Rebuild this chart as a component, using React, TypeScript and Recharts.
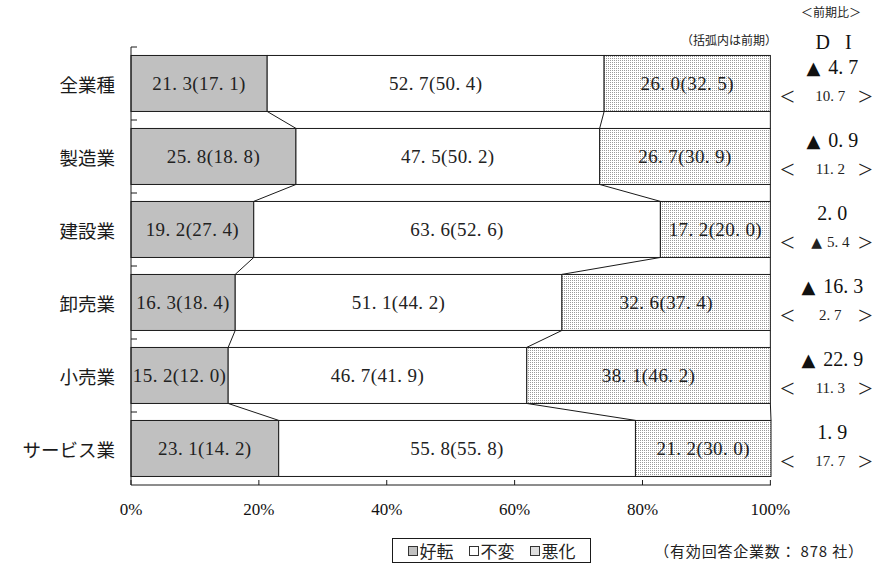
import React from 'react';
import { BarChart, Bar, XAxis, YAxis } from 'recharts';

const categories = ['全業種', '製造業', '建設業', '卸売業', '小売業', 'サービス業'];
const improved = [21.3, 25.8, 19.2, 16.3, 15.2, 23.1];
const improvedPrev = [17.1, 18.8, 27.4, 18.4, 12.0, 14.2];
const unchanged = [52.7, 47.5, 63.6, 51.1, 46.7, 55.8];
const unchangedPrev = [50.4, 50.2, 52.6, 44.2, 41.9, 55.8];
const worsened = [26.0, 26.7, 17.2, 32.6, 38.1, 21.2];
const worsenedPrev = [32.5, 30.9, 20.0, 37.4, 46.2, 30.0];
const diValues = [-4.7, -0.9, 2.0, -16.3, -22.9, 1.9];
const diChanges = [10.7, 11.2, -5.4, 2.7, 11.3, 17.7];
const xTicks = [0, 20, 40, 60, 80, 100];
const seriesNames = ['好転', '不変', '悪化'];

const rows = categories.map((name, i) => ({
  name,
  good: improved[i],
  same: unchanged[i],
  bad: worsened[i],
}));

const GAP = 0.116;
const SERIF = '"Liberation Serif", "DejaVu Serif", serif';
const SANS = '"Noto Sans CJK JP", "Noto Sans", sans-serif';
const TRI = '"DejaVu Sans", sans-serif';

const series = [
  { key: 'good', values: improved, prev: improvedPrev, fill: '#c0c0c0' },
  { key: 'same', values: unchanged, prev: unchangedPrev, fill: '#ffffff' },
  { key: 'bad', values: worsened, prev: worsenedPrev, fill: 'url(#dots)' },
];

const fmt = (v: number) => Math.abs(v).toFixed(1).replace('.', '. ');

function signed(v: number, triSize: number, gap: number) {
  return v < 0
    ? [
        <tspan key="a" fontFamily={TRI} fontSize={triSize}>▲</tspan>,
        <tspan key="b" dx={gap}>{fmt(v)}</tspan>,
      ]
    : fmt(v);
}

function cumulative(si: number, i: number) {
  let s = 0;
  for (let k = 0; k <= si; k++) s += series[k].values[i];
  return s;
}

function makeShape(si: number) {
  return (props: any) => {
    const { x, y, width, height } = props;
    let index = props.index;
    if (index == null) index = categories.indexOf(props.payload?.name);
    const s = series[si];
    const v = s.values[index];
    const ppu = width / v;
    const start = si > 0 ? cumulative(si - 1, index) : 0;
    const x0 = x - start * ppu;
    const step = height / (1 - 2 * GAP);
    const gapHalf = (step - height) / 2;
    const els: React.ReactNode[] = [];
    els.push(
      <rect key="r" x={x} y={y} width={width} height={height} fill={s.fill} stroke="#1a1a1a" strokeWidth={1} />
    );
    if (index < categories.length - 1) {
      const nextEdge = x0 + cumulative(si, index + 1) * ppu;
      els.push(
        <line key="c" x1={x + width} y1={y + height} x2={nextEdge} y2={y + step} stroke="#1a1a1a" strokeWidth={1} />
      );
    }
    if (si === 0) {
      els.push(
        <line key="t" x1={x} x2={x + 6} y1={y - gapHalf} y2={y - gapHalf} stroke="#1a1a1a" strokeWidth={1} />
      );
    }
    els.push(
      <text
        key="l"
        x={x + width / 2}
        y={y + height / 2}
        textAnchor="middle"
        dominantBaseline="central"
        fontFamily={SERIF}
        fontSize={19}
        letterSpacing={0.4}
        fill="#222"
      >
        {fmt(v) + '(' + fmt(s.prev[index]) + ')'}
      </text>
    );
    if (si === 2) {
      const cx = x0 + 100 * ppu + 62;
      const cy = y + height / 2;
      els.push(
        <text key="d1" x={cx} y={cy - 16} textAnchor="middle" dominantBaseline="central" fontFamily={SERIF} fontSize={20} fill="#111">
          {signed(diValues[index], 18, 8)}
        </text>
      );
      els.push(
        <text key="d2" x={cx - 45} y={cy + 13} textAnchor="middle" dominantBaseline="central" fontFamily={SERIF} fontSize={26} fill="#222">
          {'<'}
        </text>
      );
      els.push(
        <text key="d3" x={cx - 2} y={cy + 13} textAnchor="middle" dominantBaseline="central" fontFamily={SERIF} fontSize={15} fill="#222">
          {signed(diChanges[index], 14, 5)}
        </text>
      );
      els.push(
        <text key="d4" x={cx + 33} y={cy + 13} textAnchor="middle" dominantBaseline="central" fontFamily={SERIF} fontSize={26} fill="#222">
          {'>'}
        </text>
      );
    }
    return <g>{els}</g>;
  };
}

const CategoryTick = (p: any) => {
  const { x, y, payload } = p;
  return (
    <text x={x} y={y} textAnchor="end" dominantBaseline="central" fontFamily={SANS} fontSize={18.5} fill="#1a1a1a">
      {payload.value}
    </text>
  );
};

const legendSwatches = ['#c0c0c0', '#ffffff', '#dedede'];

export default function App() {
  return (
    <div style={{ position: 'absolute', left: 0, top: 0, width: 876, height: 568, background: '#fff', fontFamily: SANS }}>
      <svg width={0} height={0} style={{ position: 'absolute' }}>
        <defs>
          <pattern id="dots" width={2} height={2} patternUnits="userSpaceOnUse">
            <rect width={2} height={2} fill="#ffffff" />
            <rect width={1} height={1} fill="#9a9a9a" />
          </pattern>
        </defs>
      </svg>
      <BarChart
        width={876}
        height={568}
        data={rows}
        layout="vertical"
        margin={{ top: 47, right: 105, bottom: 53, left: 0 }}
        barCategoryGap={`${GAP * 100}%`}
      >
        <XAxis
          type="number"
          domain={[0, 100]}
          ticks={xTicks}
          tickFormatter={(v: number) => `${v}%`}
          height={30}
          tickSize={-5}
          tickMargin={23}
          axisLine={{ stroke: '#1a1a1a' }}
          tickLine={{ stroke: '#1a1a1a' }}
          tick={{ fontFamily: SERIF, fontSize: 17, fill: '#111' }}
        />
        <YAxis
          type="category"
          dataKey="name"
          width={131}
          tickLine={false}
          tickSize={0}
          tickMargin={16}
          axisLine={{ stroke: '#1a1a1a' }}
          tick={<CategoryTick />}
        />
        {series.map((s, si) => (
          <Bar key={s.key} dataKey={s.key} name={seriesNames[si]} stackId="a" isAnimationActive={false} shape={makeShape(si)} />
        ))}
      </BarChart>

      <div style={{ position: 'absolute', left: 731, width: 200, top: 4, lineHeight: '16px', textAlign: 'center', fontSize: 12, color: '#222' }}>
        ＜前期比＞
      </div>
      <div style={{ position: 'absolute', left: 731, width: 200, top: 30, lineHeight: '24px', textAlign: 'center', fontSize: 20, fontFamily: SERIF, letterSpacing: 5, paddingLeft: 5, color: '#111' }}>
        D I
      </div>
      <div style={{ position: 'absolute', left: 629, width: 200, top: 32, lineHeight: '16px', textAlign: 'center', fontSize: 12, color: '#222' }}>
        （括弧内は前期）
      </div>

      <div
        style={{
          position: 'absolute',
          left: 392,
          top: 538,
          width: 199,
          height: 25,
          boxSizing: 'border-box',
          border: '1px solid #1a1a1a',
          display: 'flex',
          alignItems: 'center',
          justifyContent: 'center',
          fontSize: 17,
          color: '#222',
        }}
      >
        {seriesNames.map((n, i) => (
          <span key={n} style={{ display: 'inline-flex', alignItems: 'center', marginRight: i < 2 ? 15 : 0 }}>
            <span
              style={{
                display: 'inline-block',
                width: 8,
                height: 8,
                border: '1px solid #333',
                background: legendSwatches[i],
                marginRight: 2,
              }}
            />
            <span style={{ lineHeight: '20px' }}>{n}</span>
          </span>
        ))}
      </div>
      <div style={{ position: 'absolute', left: 639, width: 240, top: 541, lineHeight: '20px', textAlign: 'center', fontSize: 15, letterSpacing: 0.8, color: '#222' }}>
        （有効回答企業数： 878 社）
      </div>
    </div>
  );
}
